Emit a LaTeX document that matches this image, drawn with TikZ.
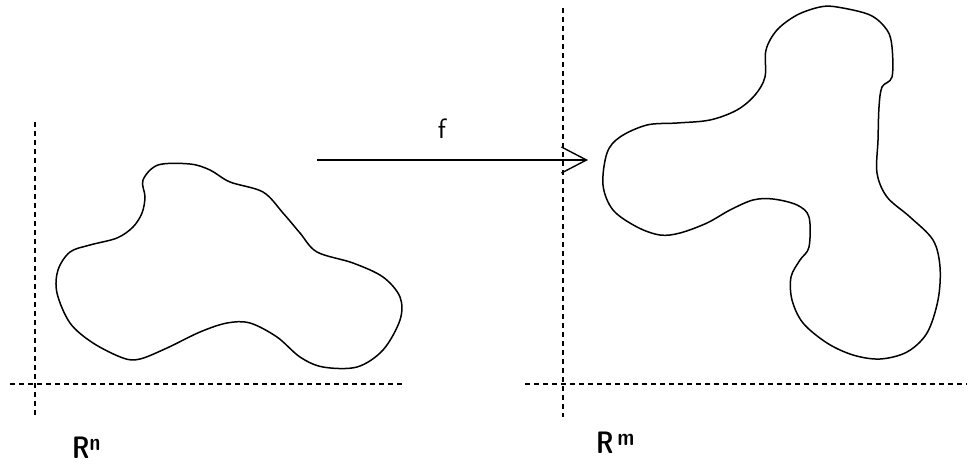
\documentclass[tikz,border=0pt]{standalone}
\usetikzlibrary{arrows.meta}
\begin{document}
\begin{tikzpicture}[x=1pt,y=-1pt,
  axis/.style={line width=1.3pt,dash pattern=on 5pt off 4pt},
  blob/.style={line width=1.5pt,smooth cycle,tension=0.55},
  lbl/.style={font=\sffamily\bfseries\fontsize{31}{31}\selectfont,xscale=0.8,inner sep=0pt,anchor=west}]
\useasboundingbox (0,0) rectangle (973,466);
% left axes
\draw[axis] (35,122) -- (35,417);
\draw[axis] (10,384) -- (403,384);
% right axes
\draw[axis] (563,8) -- (563,417);
\draw[axis] (525,384) -- (967,384);
% left blob
\draw[blob] plot coordinates {(158,165) (143,180) (145,197) (142,213) (133,227) (117,238) (90,245) (70,252) (58,270) (57,293) (70,323) (93,343) (123,358) (140,359) (167,348) (200,332) (227,323) (250,323) (277,337) (300,357) (323,367) (357,367) (383,350) (400,320) (400,297) (383,277) (353,263) (317,252) (300,233) (283,213) (263,192) (230,182) (210,170) (190,164)};
% right blob
\draw[blob] plot coordinates {(837,7) (870,15) (887,30) (892,47) (892,77) (882,87) (879,107) (878,140) (877,173) (887,197) (910,217) (933,240) (940,267) (938,300) (927,333) (907,352) (880,359) (853,355) (827,343) (803,323) (792,300) (791,277) (800,260) (809,247) (809,217) (797,205) (773,199) (753,200) (730,210) (707,223) (680,233) (660,235) (637,227) (613,210) (603,185) (607,153) (620,137) (647,125) (677,123) (710,120) (737,110) (755,95) (765,77) (766,50) (777,30) (797,15) (820,7)};
% arrow
\coordinate (a) at (317,160);
\coordinate (b) at (588,160);
\draw[line width=1.7pt,-{Straight Barb[length=25pt,width=26pt,line width=1.4pt]}] (a) -- (b);
\node[font=\sffamily\fontsize{28}{28}\selectfont,inner sep=0pt] (f) at (442,129) {f};
% labels
\node[lbl] (rn) at (72,448) {R\raisebox{8pt}{\fontsize{24}{24}\selectfont n}};
\node[lbl] (rm) at (596,443) {R\,\raisebox{8pt}{\fontsize{24}{24}\selectfont m}};
\end{tikzpicture}
\end{document}
